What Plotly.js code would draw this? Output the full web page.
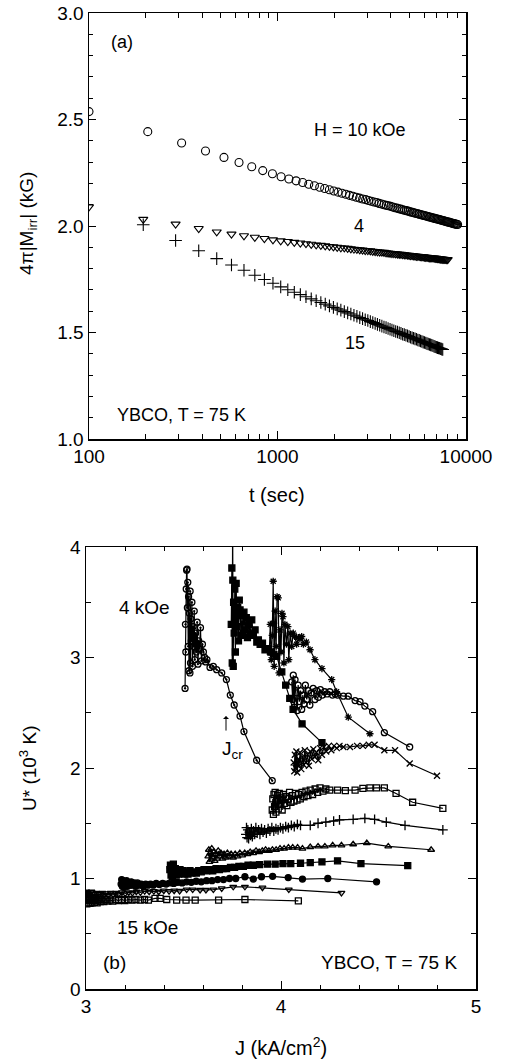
<!DOCTYPE html>
<html><head><meta charset="utf-8">
<script src="https://cdn.plot.ly/plotly-3.0.1.min.js"></script>
<style>html,body{margin:0;padding:0;background:#fff}#chart{width:505px;height:1063px}</style>
</head><body><div id="chart"></div>
<script>
// ---------- Panel (a): 4π|Mirr| vs t ----------
const t10 = [100,205,310,415,520,625,730,835,940,1045,1150,1255,1360,1465,1570,1675,1780,1885,1990,2095,2200,2305,2410,2515,2620,2725,2830,2935,3040,3145,3250,3355,3460,3565,3670,3775,3880,3985,4090,4195,4300,4405,4510,4615,4720,4825,4930,5035,5140,5245,5350,5455,5560,5665,5770,5875,5980,6085,6190,6295,6400,6505,6610,6715,6820,6925,7030,7135,7240,7345,7450,7555,7660,7765,7870,7975,8080,8185,8290,8395,8500,8605,8710,8815,8920,9025];
const m10 = [2.537,2.443,2.390,2.352,2.322,2.298,2.278,2.260,2.245,2.231,2.221,2.212,2.204,2.196,2.189,2.182,2.176,2.170,2.164,2.159,2.154,2.149,2.144,2.140,2.135,2.131,2.127,2.124,2.120,2.116,2.113,2.110,2.106,2.103,2.100,2.097,2.095,2.092,2.089,2.086,2.084,2.081,2.079,2.076,2.074,2.072,2.070,2.067,2.065,2.063,2.061,2.059,2.057,2.055,2.053,2.051,2.049,2.048,2.046,2.044,2.042,2.041,2.039,2.037,2.036,2.034,2.033,2.031,2.030,2.028,2.027,2.025,2.024,2.022,2.021,2.019,2.018,2.017,2.015,2.014,2.013,2.011,2.010,2.009,2.008,2.007];
const t4 = [100,194,288,382,476,570,664,758,852,946,1040,1134,1228,1322,1416,1510,1604,1698,1792,1886,1980,2074,2168,2262,2356,2450,2544,2638,2732,2826,2920,3014,3108,3202,3296,3390,3484,3578,3672,3766,3860,3954,4048,4142,4236,4330,4424,4518,4612,4706,4800,4894,4988,5082,5176,5270,5364,5458,5552,5646,5740,5834,5928,6022,6116,6210,6304,6398,6492,6586,6680,6774,6868,6962,7056,7150,7244,7338,7432,7526,7620,7714,7808,7902,7996];
const m4 = [2.090,2.031,2.009,1.988,1.972,1.962,1.954,1.947,1.941,1.935,1.930,1.927,1.923,1.920,1.917,1.914,1.911,1.909,1.907,1.904,1.902,1.900,1.898,1.897,1.895,1.893,1.891,1.890,1.888,1.887,1.885,1.884,1.883,1.881,1.880,1.879,1.878,1.877,1.876,1.874,1.873,1.872,1.871,1.870,1.869,1.868,1.867,1.867,1.866,1.865,1.864,1.863,1.862,1.861,1.861,1.860,1.859,1.858,1.858,1.857,1.856,1.855,1.855,1.854,1.853,1.853,1.852,1.851,1.851,1.850,1.850,1.849,1.848,1.848,1.847,1.847,1.846,1.845,1.845,1.844,1.844,1.843,1.843,1.842,1.842];
const t15 = [194,288,382,476,570,664,758,852,946,1040,1134,1228,1322,1416,1510,1604,1698,1792,1886,1980,2074,2168,2262,2356,2450,2544,2638,2732,2826,2920,3014,3108,3202,3296,3390,3484,3578,3672,3766,3860,3954,4048,4142,4236,4330,4424,4518,4612,4706,4800,4894,4988,5082,5176,5270,5364,5458,5552,5646,5740,5834,5928,6022,6116,6210,6304,6398,6492,6586,6680,6774,6868,6962,7056,7150,7244,7338,7432,7526];
const m15 = [2.006,1.932,1.884,1.847,1.817,1.792,1.769,1.749,1.731,1.714,1.701,1.689,1.678,1.668,1.658,1.649,1.641,1.633,1.625,1.618,1.611,1.605,1.598,1.592,1.587,1.581,1.576,1.570,1.565,1.560,1.556,1.551,1.547,1.542,1.538,1.534,1.530,1.526,1.523,1.519,1.515,1.512,1.508,1.505,1.502,1.499,1.496,1.492,1.490,1.487,1.484,1.481,1.478,1.475,1.473,1.470,1.468,1.465,1.463,1.460,1.458,1.455,1.453,1.451,1.448,1.446,1.444,1.442,1.440,1.438,1.435,1.433,1.431,1.429,1.427,1.426,1.424,1.422,1.420];

// ---------- Panel (b): U* vs J, fields 4..15 kOe ----------
const J4 = [3.508,3.510,3.512,3.514,3.516,3.518,3.520,3.522,3.524,3.526,3.528,3.530,3.533,3.534,3.536,3.538,3.540,3.543,3.546,3.549,3.552,3.555,3.558,3.562,3.566,3.570,3.574,3.578,3.582,3.587,3.592,3.597,3.602,3.608,3.614,3.620,3.636,3.653,3.670,3.696,3.720,3.740,3.760,3.790,3.810,3.875,3.955];
const U4 = [2.72,3.30,3.05,3.62,3.79,3.80,3.45,3.68,3.10,3.55,2.88,3.40,2.86,3.60,2.95,3.35,3.15,3.50,2.92,3.28,3.10,3.42,2.98,3.22,3.05,3.32,2.94,3.15,3.08,3.27,2.97,3.12,3.05,3.00,2.96,2.98,2.91,2.92,2.89,2.86,2.80,2.66,2.57,2.47,2.33,2.07,1.885];
const J5 = [3.745,3.748,3.750,3.752,3.753,3.755,3.757,3.760,3.763,3.766,3.770,3.774,3.778,3.782,3.786,3.790,3.795,3.800,3.805,3.810,3.815,3.822,3.828,3.835,3.842,3.850,3.858,3.867,3.876,3.884,3.893,3.905,3.918,3.932,3.948,3.962,3.978,4.004,4.024,4.045,4.062,4.108,4.210];
const U5 = [3.30,3.81,2.95,4.30,3.70,2.92,3.50,3.22,3.62,3.05,3.67,3.28,3.45,3.15,3.52,3.43,3.20,3.38,3.22,3.41,3.25,3.36,3.18,3.30,3.22,3.34,3.20,3.25,3.14,3.16,3.12,3.13,3.07,3.08,3.05,3.03,3.01,2.87,2.75,2.63,2.53,2.40,2.23];
const J6 = [3.940,3.945,3.950,3.955,3.960,3.962,3.965,3.970,3.975,3.980,3.986,3.990,3.995,4.000,4.005,4.010,4.015,4.020,4.028,4.035,4.040,4.047,4.055,4.063,4.070,4.080,4.090,4.097,4.106,4.115,4.130,4.149,4.174,4.210,4.260,4.285,4.345,4.456];
const U6 = [3.05,3.30,2.98,3.20,3.69,3.31,2.92,3.42,3.10,3.55,3.54,2.86,3.25,3.05,3.40,3.37,2.95,3.30,3.12,3.28,2.98,3.22,3.10,3.22,3.19,3.12,3.18,3.17,3.19,3.12,3.14,3.07,2.98,2.90,2.80,2.69,2.46,2.31];
const J7 = [4.055,4.060,4.063,4.068,4.072,4.078,4.083,4.088,4.094,4.100,4.106,4.112,4.118,4.125,4.132,4.140,4.148,4.156,4.165,4.174,4.183,4.192,4.202,4.212,4.224,4.236,4.250,4.264,4.278,4.290,4.320,4.345,4.380,4.405,4.430,4.470,4.530,4.660];
const U7 = [2.78,2.62,2.84,2.55,2.80,2.68,2.52,2.75,2.60,2.70,2.53,2.66,2.58,2.75,2.62,2.70,2.57,2.68,2.72,2.62,2.70,2.64,2.71,2.66,2.69,2.67,2.69,2.66,2.67,2.66,2.65,2.65,2.61,2.60,2.56,2.51,2.32,2.19];
const J8 = [4.065,4.068,4.071,4.075,4.079,4.083,4.088,4.093,4.098,4.104,4.110,4.116,4.122,4.129,4.136,4.143,4.150,4.158,4.166,4.174,4.182,4.191,4.200,4.210,4.220,4.232,4.245,4.258,4.272,4.286,4.300,4.320,4.354,4.390,4.420,4.450,4.480,4.530,4.585,4.660,4.800];
const U8 = [2.05,1.97,2.12,2.00,2.15,1.96,2.08,2.02,2.14,1.99,2.10,2.03,2.16,2.05,2.12,2.02,2.15,2.08,2.17,2.10,2.14,2.07,2.18,2.12,2.19,2.15,2.20,2.16,2.20,2.18,2.20,2.19,2.19,2.20,2.20,2.21,2.21,2.16,2.16,2.04,1.93];
const J9 = [3.955,3.958,3.961,3.964,3.967,3.970,3.974,3.978,3.982,3.986,3.991,3.996,4.001,4.006,4.012,4.018,4.024,4.030,4.037,4.044,4.051,4.058,4.066,4.074,4.082,4.090,4.099,4.108,4.118,4.128,4.138,4.150,4.162,4.175,4.188,4.200,4.215,4.230,4.250,4.290,4.330,4.380,4.420,4.456,4.490,4.530,4.590,4.675,4.830];
const U9 = [1.62,1.72,1.58,1.76,1.65,1.78,1.60,1.70,1.75,1.63,1.77,1.67,1.73,1.62,1.76,1.68,1.74,1.66,1.72,1.78,1.69,1.75,1.70,1.77,1.71,1.76,1.72,1.78,1.74,1.79,1.75,1.80,1.76,1.81,1.78,1.82,1.79,1.81,1.80,1.80,1.795,1.80,1.816,1.82,1.82,1.82,1.77,1.69,1.635];
const J10 = [3.820,3.823,3.826,3.830,3.834,3.838,3.843,3.848,3.853,3.859,3.865,3.871,3.878,3.885,3.892,3.900,3.908,3.916,3.925,3.934,3.943,3.953,3.963,3.974,3.985,3.997,4.010,4.024,4.038,4.053,4.068,4.084,4.100,4.150,4.190,4.230,4.270,4.300,4.370,4.430,4.480,4.540,4.636,4.830];
const U10 = [1.40,1.46,1.37,1.44,1.36,1.42,1.39,1.45,1.38,1.43,1.40,1.46,1.41,1.44,1.40,1.45,1.42,1.44,1.41,1.45,1.43,1.46,1.43,1.45,1.44,1.46,1.45,1.47,1.46,1.48,1.47,1.49,1.48,1.48,1.50,1.51,1.52,1.53,1.535,1.545,1.535,1.51,1.48,1.44];
const J11 = [3.627,3.630,3.633,3.637,3.641,3.645,3.650,3.655,3.660,3.666,3.672,3.678,3.685,3.692,3.700,3.708,3.716,3.725,3.734,3.744,3.754,3.765,3.777,3.789,3.801,3.814,3.828,3.842,3.857,3.872,3.888,3.904,3.921,3.938,3.956,3.975,3.995,4.016,4.038,4.060,4.085,4.110,4.150,4.190,4.225,4.265,4.310,4.370,4.440,4.550,4.770];
const U11 = [1.20,1.26,1.15,1.23,1.17,1.27,1.19,1.24,1.16,1.22,1.18,1.25,1.20,1.23,1.18,1.22,1.19,1.23,1.20,1.22,1.19,1.22,1.20,1.23,1.21,1.23,1.22,1.24,1.23,1.25,1.24,1.25,1.26,1.25,1.26,1.26,1.27,1.27,1.28,1.28,1.28,1.27,1.285,1.29,1.29,1.30,1.30,1.31,1.32,1.29,1.26];
const J12 = [3.430,3.433,3.436,3.440,3.444,3.448,3.453,3.458,3.463,3.469,3.475,3.482,3.489,3.497,3.505,3.514,3.523,3.533,3.543,3.554,3.566,3.578,3.591,3.605,3.619,3.634,3.650,3.667,3.684,3.702,3.721,3.741,3.762,3.784,3.807,3.831,3.858,3.890,3.930,3.970,4.010,4.050,4.100,4.150,4.210,4.290,4.410,4.650];
const U12 = [1.08,1.12,1.03,1.10,1.02,1.13,1.05,1.09,1.03,1.07,1.04,1.08,1.05,1.07,1.04,1.06,1.04,1.07,1.05,1.06,1.05,1.07,1.06,1.08,1.07,1.08,1.07,1.09,1.08,1.09,1.09,1.10,1.10,1.11,1.11,1.12,1.12,1.125,1.13,1.13,1.135,1.135,1.138,1.143,1.15,1.16,1.135,1.116];
const J13 = [3.180,3.183,3.186,3.190,3.194,3.198,3.203,3.208,3.213,3.219,3.225,3.232,3.239,3.247,3.255,3.264,3.273,3.283,3.294,3.306,3.318,3.331,3.345,3.360,3.376,3.393,3.411,3.430,3.450,3.471,3.493,3.516,3.540,3.565,3.591,3.618,3.646,3.675,3.705,3.736,3.768,3.815,3.858,3.900,3.957,4.037,4.110,4.240,4.490];
const U13 = [0.95,0.99,0.93,0.98,0.92,0.97,0.94,0.98,0.93,0.96,0.94,0.97,0.94,0.96,0.93,0.96,0.94,0.95,0.93,0.95,0.94,0.95,0.94,0.955,0.945,0.955,0.95,0.96,0.955,0.965,0.96,0.97,0.965,0.975,0.97,0.98,0.98,0.99,0.99,1.00,1.00,1.016,0.995,1.016,1.02,1.008,0.995,1.00,0.97];
const J14 = [3.000,3.002,3.006,3.010,3.014,3.018,3.023,3.028,3.033,3.039,3.045,3.052,3.059,3.067,3.075,3.084,3.093,3.103,3.114,3.126,3.139,3.153,3.168,3.184,3.201,3.219,3.238,3.258,3.279,3.301,3.324,3.348,3.373,3.399,3.426,3.452,3.480,3.516,3.547,3.585,3.615,3.653,3.696,3.755,3.815,3.905,4.040,4.310];
const U14 = [0.85,0.88,0.83,0.87,0.82,0.86,0.84,0.88,0.83,0.86,0.84,0.87,0.84,0.86,0.845,0.87,0.85,0.865,0.85,0.87,0.855,0.87,0.86,0.875,0.865,0.875,0.87,0.88,0.875,0.885,0.88,0.885,0.88,0.89,0.885,0.89,0.887,0.90,0.90,0.896,0.896,0.90,0.91,0.925,0.925,0.917,0.90,0.87];
const J15 = [3.000,3.004,3.008,3.012,3.016,3.021,3.026,3.031,3.037,3.043,3.050,3.057,3.065,3.073,3.082,3.091,3.101,3.112,3.124,3.137,3.151,3.166,3.182,3.199,3.217,3.236,3.256,3.278,3.300,3.320,3.354,3.380,3.414,3.465,3.513,3.560,3.680,3.815,4.089];
const U15 = [0.80,0.77,0.82,0.78,0.81,0.775,0.80,0.78,0.815,0.785,0.80,0.78,0.81,0.79,0.805,0.79,0.81,0.795,0.805,0.795,0.81,0.80,0.81,0.80,0.81,0.805,0.81,0.805,0.81,0.805,0.82,0.82,0.81,0.805,0.805,0.805,0.805,0.81,0.797];

const FONT = 'Liberation Sans, Arial, Helvetica, sans-serif';
const K = 'black';

function topTrace(x, y, symbol, size) {
  return {x: x, y: y, xaxis: 'x', yaxis: 'y', type: 'scatter', mode: 'markers',
    marker: {symbol: symbol, size: size, color: K, line: {color: K, width: 1.1}},
    hoverinfo: 'skip', showlegend: false};
}
function botTrace(x, y, symbol, size) {
  return {x: x, y: y, xaxis: 'x2', yaxis: 'y2', type: 'scatter', mode: 'lines+markers',
    line: {color: K, width: 1.2},
    marker: {symbol: symbol, size: size, color: K, line: {color: K, width: 1.3}},
    hoverinfo: 'skip', showlegend: false};
}

const data = [
  topTrace(t10, m10, 'circle-open', 8),
  topTrace(t4, m4, 'triangle-down-open', 8),
  topTrace(t15, m15, 'cross-thin-open', 9),
  botTrace(J4, U4, 'circle-open-dot', 6),
  botTrace(J5, U5, 'square', 6),
  botTrace(J6, U6, 'asterisk-open', 6),
  botTrace(J7, U7, 'circle-open', 6),
  botTrace(J8, U8, 'x-thin-open', 6),
  botTrace(J9, U9, 'square-open', 6),
  botTrace(J10, U10, 'cross-thin-open', 7),
  botTrace(J11, U11, 'triangle-up-open', 6),
  botTrace(J12, U12, 'square', 6),
  botTrace(J13, U13, 'circle', 6),
  botTrace(J14, U14, 'triangle-down-open', 6),
  botTrace(J15, U15, 'square-open', 6)
];

const W = 505, H = 1063;
const px = v => v / W, py = v => 1 - v / H;

const axBase = {showline: true, linecolor: K, linewidth: 1.5, mirror: 'ticks', ticks: 'inside',
  tickcolor: K, tickwidth: 1, showgrid: false, zeroline: false,
  tickfont: {family: FONT, size: 19, color: K}, fixedrange: true};

function ann(x, y, text, size, extra) {
  return Object.assign({xref: 'paper', yref: 'paper', x: px(x), y: py(y), text: text,
    showarrow: false, xanchor: 'center', yanchor: 'middle',
    font: {family: FONT, size: size, color: K}}, extra || {});
}

const layout = {
  width: W, height: H, margin: {l: 0, r: 0, t: 0, b: 0},
  paper_bgcolor: 'white', plot_bgcolor: 'white', showlegend: false,
  xaxis: Object.assign({}, axBase, {domain: [px(89), px(466)], anchor: 'y', type: 'log',
    range: [2, 4], tickvals: [100, 1000, 10000], ticktext: ['100', '1000', '10000'], ticklen: 8,
    minor: {ticks: 'inside', ticklen: 5, tickcolor: K, tickwidth: 1, showgrid: false,
      tickvals: [200,300,400,500,600,700,800,900,2000,3000,4000,5000,6000,7000,8000,9000]}}),
  yaxis: Object.assign({}, axBase, {domain: [py(439), py(13)], anchor: 'x', range: [1, 3],
    dtick: 0.5, tickformat: '.1f', ticklen: 7,
    minor: {ticks: 'inside', ticklen: 4, dtick: 0.1, tickcolor: K, tickwidth: 1, showgrid: false}}),
  xaxis2: Object.assign({}, axBase, {domain: [px(86), px(476)], anchor: 'y2', range: [3, 5],
    dtick: 1, ticklen: 8,
    minor: {ticks: 'inside', ticklen: 4, dtick: 0.2, tickcolor: K, tickwidth: 1, showgrid: false}}),
  yaxis2: Object.assign({}, axBase, {domain: [py(989), py(547)], anchor: 'x2', range: [0, 4],
    dtick: 1, ticklen: 8,
    minor: {ticks: 'inside', ticklen: 5, dtick: 0.5, tickcolor: K, tickwidth: 1, showgrid: false}}),
  annotations: [
    ann(122, 42, '(a)', 18),
    ann(360, 130, 'H = 10 kOe', 18),
    ann(359, 226, '4', 18),
    ann(354.5, 343, '15', 18),
    ann(181, 415, 'YBCO, T = 75 K', 18),
    ann(277, 495, 't (sec)', 20),
    ann(28, 224, '4π|M<sub>irr</sub>| (kG)', 19, {textangle: -90}),
    ann(144.5, 607, '4 kOe', 19),
    ann(147.5, 927, '15 kOe', 19),
    ann(114.5, 962, '(b)', 19),
    ann(388.5, 962, 'YBCO, T = 75 K', 19),
    ann(281, 1046, 'J (kA/cm<sup>2</sup>)', 20),
    ann(28, 768, 'U* (10<sup>3</sup> K)', 19, {textangle: -90}),
    ann(232, 750, 'J<sub>cr</sub>', 19),
    {xref: 'x2', yref: 'y2', x: 3.718, y: 2.47, ax: 0, ay: 16, text: '', showarrow: true,
      arrowhead: 1, arrowsize: 1, arrowwidth: 1, arrowcolor: K}
  ]
};

Plotly.newPlot('chart', data, layout, {staticPlot: true, displayModeBar: false});
</script></body></html>
